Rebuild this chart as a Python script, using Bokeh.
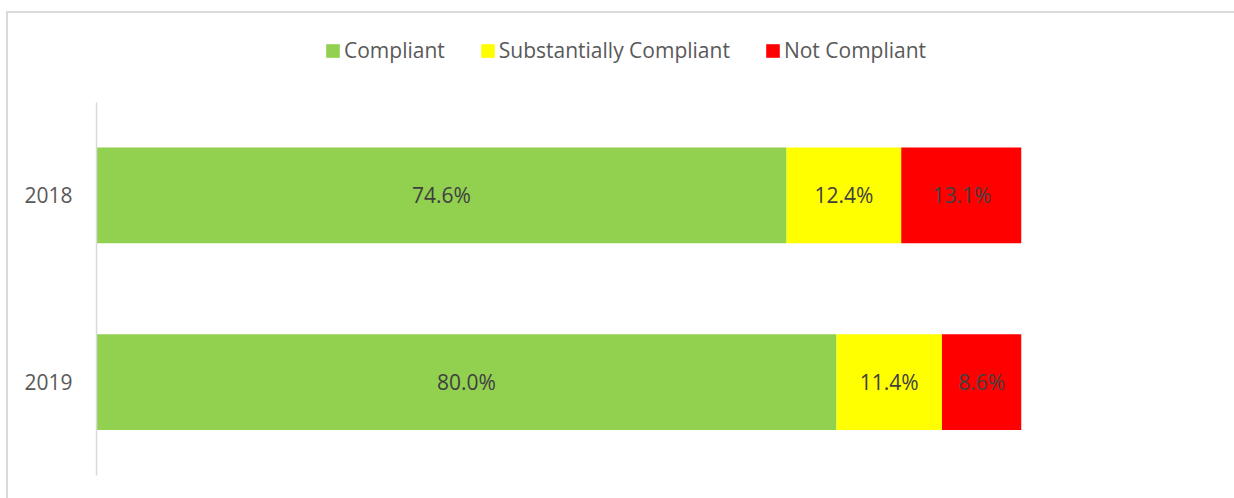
from bokeh.plotting import figure
from bokeh.models import (ColumnDataSource, Range1d, Legend, LegendItem,
                          FixedTicker)
from bokeh.core.properties import value
from bokeh.embed import file_html
from bokeh.resources import INLINE

# ---- data ----
years = [2018, 2019]
year_labels = ["2018", "2019"]
compliant = [74.6, 80.0]
substantially_compliant = [12.4, 11.4]
not_compliant = [13.1, 8.6]
series_names = ["Compliant", "Substantially Compliant", "Not Compliant"]
series_colors = ["#92D050", "#FFFF00", "#FF0000"]

FONT = "Open Sans"
FONT_SIZE = "21px"

series_values = [compliant, substantially_compliant, not_compliant]
data = {"year": years}
for name, vals in zip(series_names, series_values):
    data[name] = vals
source = ColumnDataSource(data)

# layout (pixels)
W, H = 1234, 498
FRAME_LEFT, FRAME_RIGHT, FRAME_BOTTOM = 96, 1021, 475
AXIS_TOP = 101.5
per_year_px = (FRAME_BOTTOM - AXIS_TOP) / len(years)
y_lo = years[0] - 0.5
y_hi = years[-1] + 0.5
y_top = y_lo - AXIS_TOP / per_year_px

p = figure(width=W, height=H,
           y_range=Range1d(y_hi, y_top),
           x_range=Range1d(0, 100),
           output_backend="svg", toolbar_location=None,
           x_axis_location=None,
           min_border_left=FRAME_LEFT, min_border_right=W - FRAME_RIGHT,
           min_border_top=0, min_border_bottom=H - FRAME_BOTTOM,
           styles={"box-shadow": "inset 6px 11px 0 0 #ffffff, inset 8px 13px 0 0 #d9d9d9"})
p.outline_line_color = None
p.background_fill_alpha = 0
p.border_fill_alpha = 0
p.xgrid.visible = False
p.ygrid.visible = False

renderers = p.hbar_stack(series_names, y="year", height=0.514,
                         color=series_colors, line_color=None,
                         source=source)

# data labels centred in each segment
lx, ly, lt = [], [], []
for i, y in enumerate(years):
    left = 0.0
    for vals in series_values:
        v = vals[i]
        lx.append(left + v / 2.0)
        ly.append(y)
        lt.append(f"{v:.1f}%")
        left += v
lsrc = ColumnDataSource(dict(x=lx, y=ly, text=lt))
p.text(x="x", y="y", text="text", source=lsrc,
       text_font=value(FONT), text_font_size=FONT_SIZE, text_color="#404040",
       text_align="center", text_baseline="middle")

# y axis styling
yax = p.yaxis[0]
yax.ticker = FixedTicker(ticks=years)
yax.major_label_overrides = {y: s for y, s in zip(years, year_labels)}
yax.bounds = (y_lo, y_hi)
yax.axis_line_color = "#d9d9d9"
yax.axis_line_width = 1.5
yax.major_tick_line_color = None
yax.minor_tick_line_color = None
yax.major_tick_out = 0
yax.major_label_standoff = 24
yax.major_label_text_font = FONT
yax.major_label_text_font_size = FONT_SIZE
yax.major_label_text_color = "#595959"

legend = Legend(
    items=[LegendItem(label=n, renderers=[r]) for n, r in zip(series_names, renderers)],
    orientation="horizontal", location=(228, 411),
    glyph_width=17, glyph_height=17, label_standoff=3, spacing=34,
    label_height=17,
    padding=0, margin=0, border_line_color=None, background_fill_alpha=0,
    label_text_font=FONT, label_text_font_size=FONT_SIZE,
    label_text_color="#595959")
p.add_layout(legend, "center")

open("out.html", "w").write(file_html(p, INLINE))
